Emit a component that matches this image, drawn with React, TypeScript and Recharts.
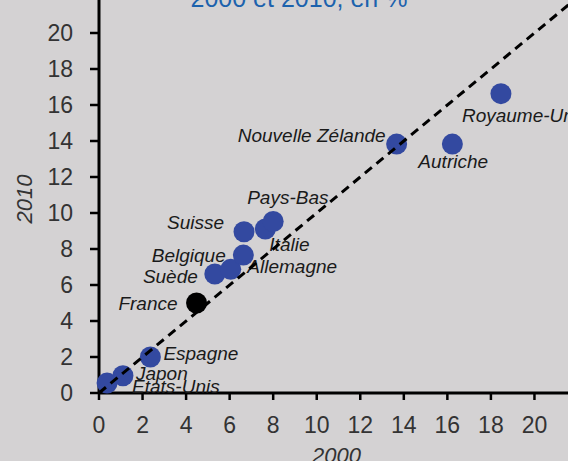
import { ScatterChart, Scatter, XAxis, YAxis, Label } from "recharts";

const COUNTRIES = [
  "Etats-Unis",
  "Japon",
  "Espagne",
  "France",
  "Suède",
  "Belgique",
  "Allemagne",
  "Suisse",
  "Italie",
  "Pays-Bas",
  "Nouvelle Zélande",
  "Autriche",
  "Royaume-Uni",
];
const VALUES_2000 = [0.37, 1.1, 2.36, 4.48, 5.32, 6.05, 6.63, 6.66, 7.64, 8.0, 13.67, 16.23, 18.46];
const VALUES_2010 = [0.55, 0.96, 2.0, 5.0, 6.61, 6.87, 7.66, 8.96, 9.11, 9.53, 13.83, 13.83, 16.63];
const X_TICKS = [0, 2, 4, 6, 8, 10, 12, 14, 16, 18, 20];
const Y_TICKS = [0, 2, 4, 6, 8, 10, 12, 14, 16, 18, 20];
const DIAGONAL = [0, 22];
const HIGHLIGHT = "France";

// label placement relative to each dot: dx, dy (baseline), anchor
const LABEL_POS: Record<string, [number, number, "start" | "end"]> = {
  "Etats-Unis": [25, 10, "start"],
  Japon: [13, 4, "start"],
  Espagne: [13, 3, "start"],
  France: [-19, 7, "end"],
  Suède: [-17, 9, "end"],
  Belgique: [-5, -7, "end"],
  Allemagne: [4, 18, "start"],
  Suisse: [-20, -3, "end"],
  Italie: [4, 22, "start"],
  "Pays-Bas": [-26, -17, "start"],
  "Nouvelle Zélande": [-11, -2, "end"],
  Autriche: [-34, 24, "start"],
  "Royaume-Uni": [-39, 28, "start"],
};

const FONT = "'Liberation Sans', Arial, sans-serif";
const BLUE = "#3349a0";

const points = COUNTRIES.map((name, i) => ({ name, x: VALUES_2000[i], y: VALUES_2010[i] }));
const diagonal = DIAGONAL.map((v) => ({ x: v, y: v }));

function CountryDot(props: any) {
  const { cx, cy, payload } = props;
  const [dx, dy, anchor] = LABEL_POS[payload.name] ?? [12, 4, "start"];
  return (
    <g>
      <circle cx={cx} cy={cy} r={10.5} fill={payload.name === HIGHLIGHT ? "#000" : BLUE} />
      <text
        x={cx + dx}
        y={cy + dy}
        textAnchor={anchor}
        fontFamily={FONT}
        fontStyle="italic"
        fontSize={19}
        fill="#1a1a1a"
      >
        {payload.name}
      </text>
    </g>
  );
}

export default function App() {
  const tickStyle = { fill: "#333", fontSize: 23, fontFamily: FONT };
  return (
    <div
      style={{
        position: "fixed",
        left: 0,
        top: 0,
        width: 568,
        height: 461,
        overflow: "hidden",
        background: "#d4d2d3",
      }}
    >
      <svg width={568} height={30} style={{ position: "absolute", left: 0, top: 0 }}>
        <text x={299} y={7} textAnchor="middle" fontFamily={FONT} fontSize={25} fill="#1c62ad">
          2000 et 2010, en %
        </text>
      </svg>
      <div style={{ position: "absolute", left: 0, top: -20 }}>
        <ScatterChart width={578} height={503} margin={{ top: 17, right: 0, bottom: 0, left: 0 }}>
          <XAxis
            type="number"
            dataKey="x"
            domain={[0, 22]}
            ticks={X_TICKS}
            height={90}
            axisLine={{ stroke: "#000", strokeWidth: 3 }}
            tickLine={{ stroke: "#000", strokeWidth: 2.5 }}
            tickSize={7}
            tickMargin={17}
            tick={tickStyle}
          >
            <Label
              content={({ viewBox }: any) => (
                <text
                  x={viewBox.x + viewBox.width / 2 - 2}
                  y={viewBox.y + 70}
                  textAnchor="middle"
                  fontFamily={FONT}
                  fontStyle="italic"
                  fontSize={22}
                  fill="#333"
                >
                  2000
                </text>
              )}
            />
          </XAxis>
          <YAxis
            type="number"
            dataKey="y"
            domain={[0, 22]}
            ticks={Y_TICKS}
            width={99}
            axisLine={{ stroke: "#000", strokeWidth: 3 }}
            tickLine={{ stroke: "#000", strokeWidth: 2.5 }}
            tickSize={9}
            tickMargin={17}
            tick={tickStyle}
          >
            <Label
              content={({ viewBox }: any) => {
                const x = viewBox.x + 24;
                const y = viewBox.y + viewBox.height / 2 + 4;
                return (
                  <text
                    x={x}
                    y={y}
                    dy="0.36em"
                    textAnchor="middle"
                    transform={`rotate(-90, ${x}, ${y})`}
                    fontFamily={FONT}
                    fontStyle="italic"
                    fontSize={22}
                    fill="#333"
                  >
                    2010
                  </text>
                );
              }}
            />
          </YAxis>
          <Scatter data={points} shape={<CountryDot />} isAnimationActive={false} />
          <Scatter
            data={diagonal}
            line={{ stroke: "#000", strokeWidth: 3, strokeDasharray: "9 6" }}
            shape={() => <g />}
            isAnimationActive={false}
          />
        </ScatterChart>
      </div>
    </div>
  );
}
